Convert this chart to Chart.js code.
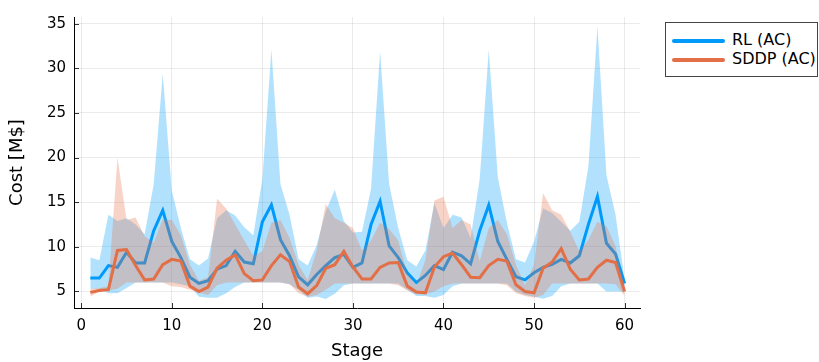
<!DOCTYPE html>
<html>
<head>
<meta charset="utf-8">
<script src="https://cdn.jsdelivr.net/npm/chart.js@4.4.1/dist/chart.umd.min.js"></script>
<style>
  body { margin: 0; background: #fff; }
  #wrap { position: relative; width: 819px; height: 362px; overflow: hidden; }
  #legend {
    position: absolute; left: 665px; top: 22px; width: 153px; height: 55px;
    border: 1px solid #444; background: #fff; box-sizing: border-box;
    font-family: "DejaVu Sans", sans-serif; font-size: 16px; color: #000;
  }
  .item { position: absolute; left: 6px; height: 18px; line-height: 18px; white-space: nowrap; }
  .item span.sw { display: inline-block; width: 53px; height: 4px; border-radius: 2px; vertical-align: middle; margin-right: 7px; }
</style>
</head>
<body>
<div id="wrap">
  <canvas id="c" width="819" height="362"></canvas>
  <div id="legend">
    <div class="item" style="top:8px"><span class="sw" style="background:#009AFA"></span>RL (AC)</div>
    <div class="item" style="top:27px"><span class="sw" style="background:#E36F47"></span>SDDP (AC)</div>
  </div>
</div>
<script>
const stages = [1, 2, 3, 4, 5, 6, 7, 8, 9, 10, 11, 12, 13, 14, 15, 16, 17, 18, 19, 20,
  21, 22, 23, 24, 25, 26, 27, 28, 29, 30, 31, 32, 33, 34, 35, 36, 37, 38, 39, 40,
  41, 42, 43, 44, 45, 46, 47, 48, 49, 50, 51, 52, 53, 54, 55, 56, 57, 58, 59, 60];

const rlMean = [6.5, 6.5, 7.9, 7.7, 9.4, 8.2, 8.2, 11.8, 14.1, 10.6,
  8.8, 6.6, 5.9, 6.2, 7.5, 7.9, 9.5, 8.3, 8.1, 12.8,
  14.7, 10.8, 9.0, 6.65, 5.75, 6.9, 7.9, 8.8, 9.15, 7.7,
  8.2, 12.5, 15.1, 10.1, 8.8, 7.1, 6.0, 6.8, 7.9, 7.45,
  9.4, 9.0, 8.1, 11.8, 14.7, 10.6, 8.6, 6.65, 6.3, 7.1,
  7.7, 8.05, 8.6, 8.2, 9.0, 12.5, 15.65, 10.4, 9.2, 5.9];
const rlLow = [5.3, 5.3, 4.8, 4.8, 5.4, 6.0, 6.0, 6.0, 6.0, 6.0,
  5.8, 5.6, 4.4, 4.3, 4.3, 4.8, 5.5, 6.0, 6.0, 6.0,
  6.0, 6.0, 5.8, 5.2, 4.3, 4.45, 4.15, 4.75, 5.7, 5.9,
  5.9, 5.9, 5.9, 5.9, 5.9, 5.2, 4.5, 4.5, 4.3, 4.6,
  5.6, 5.9, 5.9, 5.9, 5.9, 5.9, 5.9, 5.0, 4.6, 4.4,
  4.2, 4.5, 5.6, 5.9, 5.9, 5.9, 5.9, 5.0, 5.0, 5.0];
const rlHigh = [8.8, 8.5, 13.6, 12.9, 13.2, 12.5, 11.4, 17.0, 29.4, 16.3,
  12.1, 8.6, 7.9, 8.7, 13.2, 14.1, 13.5, 12.2, 11.3, 17.6,
  32.1, 17.0, 13.6, 8.6, 7.9, 10.2, 14.0, 16.4, 12.9, 11.6,
  11.7, 16.5, 31.9, 17.0, 12.1, 8.5, 7.8, 9.6, 14.9, 12.1,
  13.6, 13.3, 11.0, 17.6, 32.1, 17.8, 12.7, 8.6, 8.25, 10.6,
  14.3, 13.8, 12.8, 11.8, 12.8, 19.0, 34.7, 18.0, 13.6, 6.3];

const sddpMean = [4.9, 5.1, 5.2, 9.6, 9.7, 7.9, 6.3, 6.4, 8.0, 8.6,
  8.4, 5.6, 5.0, 5.5, 7.6, 8.5, 9.1, 7.0, 6.2, 6.3,
  7.9, 9.1, 8.35, 5.5, 4.75, 5.65, 7.6, 8.0, 9.5, 7.75,
  6.4, 6.4, 7.7, 8.2, 8.25, 5.6, 4.95, 4.85, 7.75, 8.9,
  9.3, 8.0, 6.6, 6.55, 7.9, 8.6, 8.4, 5.75, 5.0, 4.85,
  7.6, 8.3, 9.8, 7.5, 6.3, 6.4, 7.7, 8.5, 8.25, 5.0];
const sddpLow = [4.4, 5.0, 5.1, 5.3, 6.0, 6.0, 6.0, 6.0, 6.0, 5.6,
  5.5, 5.2, 4.9, 4.6, 5.7, 6.0, 6.0, 6.0, 6.0, 6.0,
  6.0, 6.0, 5.8, 4.8, 4.4, 4.6, 5.2, 5.9, 5.9, 5.9,
  5.9, 5.9, 5.9, 5.9, 5.7, 5.1, 4.7, 4.7, 5.0, 5.6,
  5.9, 5.9, 5.9, 5.9, 5.9, 5.9, 5.7, 4.8, 4.5, 4.3,
  4.6, 5.9, 5.9, 5.9, 5.9, 5.9, 5.9, 5.9, 5.8, 4.5];
const sddpHigh = [5.3, 5.4, 5.6, 20.0, 13.0, 13.3, 11.2, 10.5, 13.1, 13.0,
  11.3, 8.0, 6.2, 6.6, 15.4, 14.3, 12.5, 10.7, 9.0, 9.5,
  12.7, 13.0, 11.0, 8.0, 6.3, 9.6, 14.8, 13.2, 12.7, 12.1,
  9.6, 10.7, 12.7, 12.0, 10.7, 7.0, 5.7, 8.5, 15.2, 15.6,
  12.1, 13.0, 12.5, 8.4, 12.1, 13.0, 11.4, 8.0, 5.7, 8.0,
  16.0, 14.1, 13.6, 11.7, 9.5, 10.8, 12.8, 12.3, 10.1, 5.1];

const xTicks = [0, 10, 20, 30, 40, 50, 60];
const yTicks = [5, 10, 15, 20, 25, 30, 35];

const BLUE = "#009AFA";
const RED = "#E36F47";

function pts(values) {
  return stages.map((s, i) => ({ x: s, y: values[i] }));
}

function band(values, color, fill, order) {
  return {
    data: pts(values),
    borderWidth: 0,
    pointRadius: 0,
    backgroundColor: color,
    fill: fill,
    order: order,
  };
}

// small tick marks drawn inside the plot, like the GR backend
const innerTicks = {
  id: "innerTicks",
  afterDraw(chart) {
    const ctx = chart.ctx;
    const { left, bottom } = chart.chartArea;
    ctx.save();
    ctx.strokeStyle = "rgba(0,0,0,0.8)";
    ctx.lineWidth = 1;
    xTicks.forEach((v) => {
      const px = Math.round(chart.scales.x.getPixelForValue(v)) + 0.5;
      ctx.beginPath();
      ctx.moveTo(px, bottom);
      ctx.lineTo(px, bottom - 5);
      ctx.stroke();
    });
    yTicks.forEach((v) => {
      const py = Math.round(chart.scales.y.getPixelForValue(v)) + 0.5;
      ctx.beginPath();
      ctx.moveTo(left, py);
      ctx.lineTo(left + 5, py);
      ctx.stroke();
    });
    ctx.restore();
  },
};

new Chart(document.getElementById("c"), {
  type: "line",
  data: {
    datasets: [
      band(rlLow, "rgba(0,154,250,0.3)", false, 6),
      band(rlHigh, "rgba(0,154,250,0.3)", "-1", 5),
      {
        label: "RL (AC)",
        data: pts(rlMean),
        borderColor: BLUE,
        borderWidth: 3,
        pointRadius: 0,
        fill: false,
        order: 4,
      },
      band(sddpLow, "rgba(227,111,71,0.3)", false, 3),
      band(sddpHigh, "rgba(227,111,71,0.3)", "-1", 2),
      {
        label: "SDDP (AC)",
        data: pts(sddpMean),
        borderColor: RED,
        borderWidth: 3,
        pointRadius: 0,
        fill: false,
        order: 1,
      },
    ],
  },
  options: {
    responsive: false,
    animation: false,
    layout: { padding: { left: 0, right: 179, top: 12, bottom: 0 } },
    plugins: {
      legend: { display: false },
      tooltip: { enabled: false },
      filler: { drawTime: "beforeDatasetDraw" },
    },
    scales: {
      x: {
        type: "linear",
        min: -0.8,
        max: 61.7,
        afterBuildTicks: (scale) => { scale.ticks = xTicks.map((v) => ({ value: v })); },
        afterFit: (scale) => { scale.height = 54; },
        grid: { color: "rgba(0,0,0,0.08)", drawTicks: false },
        border: { color: "#000", width: 1 },
        ticks: {
          padding: 9,
          maxRotation: 0,
          color: "#000",
          font: { family: "DejaVu Sans", size: 15 },
        },
        title: {
          display: true,
          text: "Stage",
          color: "#000",
          font: { family: "DejaVu Sans", size: 18 },
          padding: { top: 2, bottom: 0 },
        },
      },
      y: {
        min: 3.15,
        max: 35.75,
        afterBuildTicks: (scale) => { scale.ticks = yTicks.map((v) => ({ value: v })); },
        afterFit: (scale) => { scale.width = 74; },
        grid: { color: "rgba(0,0,0,0.08)", drawTicks: false },
        border: { color: "#000", width: 1 },
        ticks: {
          padding: 8,
          color: "#000",
          font: { family: "DejaVu Sans", size: 15 },
        },
        title: {
          display: true,
          text: "Cost [M$]",
          color: "#000",
          font: { family: "DejaVu Sans", size: 18 },
          padding: { top: 7, bottom: 0 },
        },
      },
    },
  },
  plugins: [innerTicks],
});
</script>
</body>
</html>
